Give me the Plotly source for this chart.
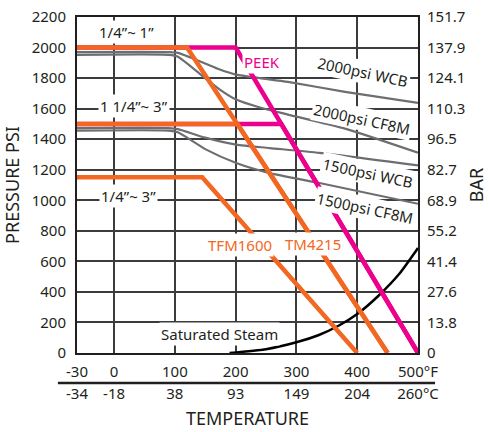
import plotly.graph_objects as go

# ---------------- data ----------------
TEMP_F_TICKS = [-30, 0, 100, 200, 300, 400, 500]
TEMP_F_LABELS = ["-30", "0", "100", "200", "300", "400", "500°F"]
TEMP_C_LABELS = ["-34", "-18", "38", "93", "149", "204", "260°C"]
PSI_TICKS = [0, 200, 400, 600, 800, 1000, 1200, 1400, 1600, 1800, 2000, 2200]
PSI_LABELS = [str(v) for v in PSI_TICKS]
BAR_LABELS = ["0", "13.8", "27.6", "41.4", "55.2", "68.9", "82.7", "96.5",
              "110.3", "124.1", "137.9", "151.7"]

# gray body ratings
WCB2000_F = [-30, 90, 105, 146, 174, 201, 240, 286, 380, 500]
WCB2000_PSI = [1970, 1970, 1965, 1902, 1856, 1823, 1800, 1775, 1710, 1637]
CF8M2000_F = [-30, 90, 105, 146, 174, 201, 240, 286, 380, 500]
CF8M2000_PSI = [1952, 1952, 1940, 1812, 1725, 1659, 1607, 1561, 1469, 1311]
WCB1500_F = [-30, 90, 105, 150, 201, 256, 338, 500]
WCB1500_PSI = [1472, 1472, 1466, 1410, 1364, 1342, 1310, 1228]
CF8M1500_F = [-30, 90, 105, 150, 201, 256, 338, 500]
CF8M1500_PSI = [1456, 1456, 1445, 1335, 1244, 1178, 1113, 977]

# seat ratings
PEEK_SMALL_F = [-30, 200, 500]
PEEK_SMALL_PSI = [2000, 2000, 0]
PEEK_LARGE_F = [-30, 275, 500]
PEEK_LARGE_PSI = [1500, 1500, 0]
TM4215_SMALL_F = [-30, 120, 450]
TM4215_SMALL_PSI = [2000, 2000, 0]
TM4215_LARGE_F = [-30, 203, 450]
TM4215_LARGE_PSI = [1500, 1500, 0]
TFM1600_F = [-30, 145, 400]
TFM1600_PSI = [1150, 1150, 0]

# saturated steam
STEAM_F = [190, 250, 300, 337, 370, 400, 435, 470, 500]
STEAM_PSI = [0, 25, 70, 118, 180, 255, 375, 522, 687]

# ---------------- scale ----------------
# the chart stretches the -30..0 °F segment (drawn twice as wide)
def xpos(f):
    return f if f >= 0 else f * 61 / 30

def xs(arr):
    return [xpos(v) for v in arr]

ORANGE = "#F26722"
PINK = "#EC008C"
GRAY = "#6D6E71"
INK = "#231F20"
FONT = "Noto Sans"

fig = go.Figure()

def add(xf, yp, color, width, shape="linear"):
    fig.add_trace(go.Scatter(x=xs(xf), y=yp, mode="lines",
                             line=dict(color=color, width=width, shape=shape,
                                       smoothing=0.6),
                             hoverinfo="skip", showlegend=False))

for xf, yp in [(WCB2000_F, WCB2000_PSI), (CF8M2000_F, CF8M2000_PSI),
               (WCB1500_F, WCB1500_PSI), (CF8M1500_F, CF8M1500_PSI)]:
    add(xf, yp, GRAY, 2.2, "spline")
add(STEAM_F, STEAM_PSI, "black", 2.5, "spline")
add(PEEK_SMALL_F, PEEK_SMALL_PSI, PINK, 4.5)
add(PEEK_LARGE_F, PEEK_LARGE_PSI, PINK, 4.5)
add(TM4215_SMALL_F, TM4215_SMALL_PSI, ORANGE, 4.5)
add(TM4215_LARGE_F, TM4215_LARGE_PSI, ORANGE, 4.5)
add(TFM1600_F, TFM1600_PSI, ORANGE, 4.5)

# second x axis (°C) dummy trace
fig.add_trace(go.Scatter(x=[xpos(-30)], y=[None], xaxis="x2", yaxis="y",
                         showlegend=False, hoverinfo="skip"))
# right axis (BAR) dummy trace
fig.add_trace(go.Scatter(x=[xpos(-30)], y=[None], xaxis="x", yaxis="y2",
                         showlegend=False, hoverinfo="skip"))

def label(text, f, psi, color=INK, angle=0, size=15):
    fig.add_annotation(x=xpos(f), y=psi, xref="x", yref="y", text=text,
                       showarrow=False, textangle=angle, bgcolor="white",
                       borderpad=1,
                       font=dict(family=FONT, size=size, color=color))

label("1/4”~ 1”", 21, 2100)
label("1 1/4”~ 3”", 33, 1620)
label("1/4”~ 3”", 24, 1030)
label("PEEK", 243, 1908, PINK)
label("TFM1600", 207, 708, ORANGE)
label("TM4215", 327, 715, ORANGE)
label("Saturated Steam", 174, 125)
label("2000psi WCB", 410, 1843, angle=12)
label("2000psi CF8M", 408, 1534, angle=12)
label("1500psi WCB", 418, 1180, angle=12)
label("1500psi CF8M", 413, 951, angle=12)

# separator line between °F and °C rows
fig.add_shape(type="line", xref="paper", yref="paper", x0=-0.056, x1=1.05,
              y0=0, y1=0, line=dict(color=INK, width=2.5))

tickfont = dict(family=FONT, size=15, color=INK)
grid = "#3c3c3c"

fig.update_layout(
    width=489, height=432,
    margin=dict(l=77, r=71, t=17, b=49),
    paper_bgcolor="white", plot_bgcolor="white",
    xaxis=dict(range=[xpos(-30), 500], tickvals=xs(TEMP_F_TICKS),
               ticktext=TEMP_F_LABELS, showgrid=True, gridcolor=grid,
               gridwidth=1.5, showline=True, linecolor=INK, linewidth=2,
               mirror=True, zeroline=False, ticks="", tickfont=tickfont,
               anchor="y", ticklabelstandoff=4, automargin=False,
               ticklabeloverflow="allow"),
    xaxis2=dict(range=[xpos(-30), 500], tickvals=xs(TEMP_F_TICKS),
                ticktext=TEMP_C_LABELS, overlaying="x", side="bottom",
                anchor="free", position=0, showgrid=False, showline=False,
                zeroline=False, ticks="", tickfont=tickfont, automargin=False,
                ticklabeloverflow="allow",
                title=dict(text="TEMPERATURE", standoff=10,
                           font=dict(family=FONT, size=18, color=INK))),
    yaxis=dict(range=[0, 2200], domain=[0.082, 1], tickvals=PSI_TICKS,
               ticktext=PSI_LABELS, showgrid=True, gridcolor=grid,
               gridwidth=1.5, showline=True, linecolor=INK, linewidth=2,
               mirror=True, zeroline=False, ticks="", tickfont=tickfont,
               ticklabelstandoff=6, automargin=False,
               ticklabeloverflow="allow",
               title=dict(text="PRESSURE PSI", standoff=8,
                          font=dict(family=FONT, size=18, color=INK))),
    yaxis2=dict(range=[0, 2200], domain=[0.082, 1], overlaying="y",
                side="right", tickvals=PSI_TICKS, ticktext=BAR_LABELS,
                showgrid=False, showline=False, zeroline=False, ticks="",
                tickfont=tickfont, ticklabelstandoff=8, automargin=False,
                ticklabeloverflow="allow",
                title=dict(text="BAR", standoff=6,
                           font=dict(family=FONT, size=18, color=INK))),
)

# remove the page's default body margin so the figure fills the window exactly
fig.write_html("out.html",
               config={"displayModeBar": False},
               post_script="document.body.style.margin='0';"
                           "document.body.style.overflow='hidden';")
